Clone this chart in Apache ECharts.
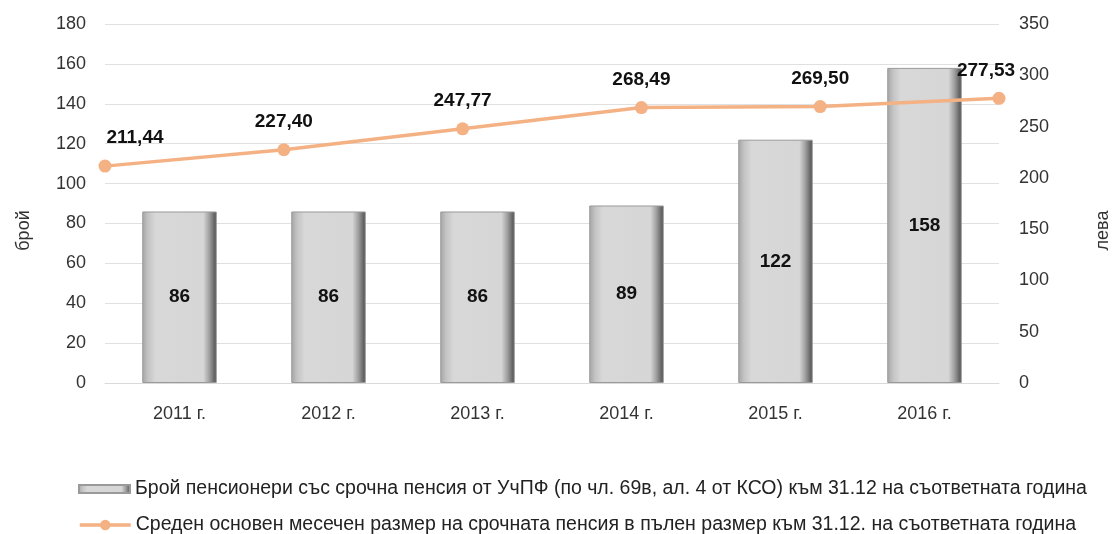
<!DOCTYPE html>
<html>
<head>
    <meta charset="utf-8">
    <script src="https://cdn.jsdelivr.net/npm/echarts@6/dist/echarts.min.js"></script>
    <style>
        html, body { margin: 0; padding: 0; background: #fff; }
        #myChart { width: 1120px; height: 534px; }
    </style>
</head>
<body>
<div id="myChart"></div>
<script>
    var years = ['2011 г.', '2012 г.', '2013 г.', '2014 г.', '2015 г.', '2016 г.'];
    var pensioners = [86, 86, 86, 89, 122, 158]; // брой
    var avgPension = [211.44, 227.40, 247.77, 268.49, 269.50, 277.53]; // лева
    var barName = 'Брой пенсионери със срочна пенсия от УчПФ (по чл. 69в, ал. 4 от КСО) към 31.12 на съответната година';
    var lineName = 'Среден основен месечен размер на срочната пенсия в пълен размер към 31.12. на съответната година';

    var font = "'Liberation Sans Narrow', 'Arial Narrow', 'Liberation Sans', Arial, sans-serif";
    var lineColor = '#F4B183';

    var barFill = new echarts.graphic.LinearGradient(0, 0, 1, 0, [
        { offset: 0, color: '#a4a4a4' },
        { offset: 0.08, color: '#c4c4c4' },
        { offset: 0.18, color: '#d8d8d8' },
        { offset: 0.82, color: '#d6d6d6' },
        { offset: 0.9, color: '#a0a0a0' },
        { offset: 1, color: '#4a4a4a' }
    ]);

    // end labels are nudged inwards, like the original
    var lineData = avgPension.map(function (v, i) {
        if (i === 0) return { value: v, label: { offset: [30, 0] } };
        if (i === avgPension.length - 1) return { value: v, label: { offset: [-13, 0] } };
        return v;
    });

    var myChart = echarts.init(document.getElementById('myChart'));
    myChart.setOption({
        textStyle: { fontFamily: font },
        grid: { left: 105, right: 120, top: 24, bottom: 151, containLabel: false },
        legend: [
            {
                data: [{ name: barName, icon: 'rect' }],
                left: 73, top: 474, itemWidth: 51, itemHeight: 8,
                textStyle: { fontSize: 19.5, color: '#222', fontFamily: font }
            },
            {
                data: [lineName],
                left: 73, top: 510, itemWidth: 51, itemHeight: 13,
                lineStyle: { width: 3.5 },
                textStyle: { fontSize: 19.5, color: '#222', fontFamily: font }
            }
        ],
        xAxis: [
            {
                type: 'category',
                data: years,
                axisLine: { lineStyle: { color: '#d9d9d9', width: 1 } },
                axisTick: { show: false },
                axisLabel: { fontSize: 18, color: '#333', margin: 22, fontFamily: font }
            },
            {
                type: 'category',
                data: years,
                boundaryGap: false,
                show: false
            }
        ],
        yAxis: [
            {
                type: 'value', min: 0, max: 180, interval: 20,
                name: 'брой', nameLocation: 'middle', nameGap: 72, nameRotate: 90,
                nameTextStyle: { fontSize: 18, color: '#333', fontFamily: font, padding: [0, 54, 0, 0] },
                axisLine: { show: false }, axisTick: { show: false },
                axisLabel: { fontSize: 18, color: '#333', margin: 19, fontFamily: font },
                splitLine: { lineStyle: { color: '#e0e0e0' } }
            },
            {
                type: 'value', min: 0, max: 350, interval: 50,
                name: 'лева', nameLocation: 'middle', nameGap: 95, nameRotate: 90,
                nameTextStyle: { fontSize: 18, color: '#333', fontFamily: font, padding: [0, 54, 0, 0] },
                axisLine: { show: false }, axisTick: { show: false },
                axisLabel: { fontSize: 18, color: '#333', margin: 20, fontFamily: font },
                splitLine: { show: false }
            }
        ],
        series: [
            {
                name: barName,
                type: 'bar',
                data: pensioners,
                barWidth: '50%',
                itemStyle: { color: barFill, borderColor: '#9a9a9a', borderWidth: 1 },
                label: {
                    show: true, position: 'inside', fontSize: 19, fontWeight: 'bold',
                    color: '#111', fontFamily: font
                }
            },
            {
                name: lineName,
                type: 'line',
                xAxisIndex: 1,
                yAxisIndex: 1,
                data: lineData,
                symbol: 'circle',
                symbolSize: 13,
                itemStyle: { color: lineColor },
                lineStyle: { color: lineColor, width: 3.5 },
                label: {
                    show: true, position: 'top', distance: 12, fontSize: 19, fontWeight: 'bold',
                    color: '#111', fontFamily: font,
                    formatter: function (p) { return p.value.toFixed(2).replace('.', ','); }
                },
                z: 5
            }
        ]
    });
</script>
</body>
</html>
